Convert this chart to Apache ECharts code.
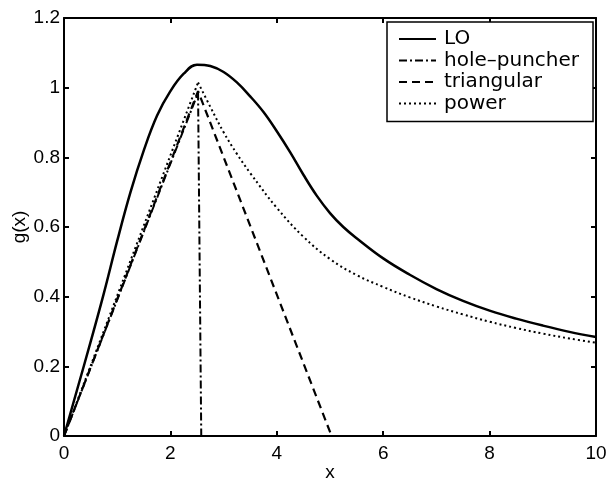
<!DOCTYPE html>
<html>
<head>
<meta charset="utf-8">
<script src="https://cdn.jsdelivr.net/npm/echarts@6/dist/echarts.min.js"></script>
<style>html,body{margin:0;padding:0;background:#fff}#c{width:608px;height:481px}</style>
</head>
<body>
<div id="c"></div>
<script>
// Values
var seriesNames = ['LO', 'hole\u2013puncher', 'triangular', 'power'];
var xTicks = [0, 2, 4, 6, 8, 10];
var yTicks = [0, 0.2, 0.4, 0.6, 0.8, 1, 1.2];

var loX = [0, 0.25, 0.5, 0.75, 1.0, 1.25, 1.5, 1.75, 2.0, 2.25, 2.5, 2.75, 3.0, 3.25, 3.5, 3.75, 4.0, 4.25, 4.5, 4.75, 5.0, 5.25, 5.5, 6.0, 6.5, 7.0, 7.5, 8.0, 8.5, 9.0, 9.5, 10];
var loY = [0, 0.135, 0.27, 0.41, 0.56, 0.70, 0.82, 0.92, 0.99, 1.04, 1.066, 1.062, 1.045, 1.015, 0.975, 0.93, 0.875, 0.815, 0.75, 0.69, 0.64, 0.60, 0.568, 0.51, 0.463, 0.422, 0.388, 0.36, 0.337, 0.317, 0.299, 0.284];

var holeX = [0, 2.52, 2.58];
var holeY = [0, 0.985, 0];

var triX = [0, 2.52, 5.03];
var triY = [0, 0.99, 0];

// power: straight rise to the peak, then a smooth decay
var powRiseX = [0, 2.52];
var powRiseY = [0, 1.015];
var powDecayX = [2.52, 2.75, 3.0, 3.25, 3.5, 4.0, 4.5, 5.0, 5.5, 6.0, 6.5, 7.0, 7.5, 8.0, 8.5, 9.0, 9.5, 10];
var powDecayY = [1.015, 0.945, 0.872, 0.81, 0.755, 0.655, 0.572, 0.508, 0.462, 0.428, 0.398, 0.372, 0.349, 0.328, 0.31, 0.294, 0.28, 0.268];

function pairs(xs, ys) { return xs.map(function (x, i) { return [x, ys[i]]; }); }

var FONT = '"Liberation Sans", Arial, Helvetica, sans-serif';
var LEGFONT = '"DejaVu Sans", "Liberation Sans", Arial, sans-serif';
var chart = echarts.init(document.getElementById('c'), null, {renderer: 'canvas'});

var axisCommon = {
  axisLine: {show: true, onZero: false, lineStyle: {color: '#000', width: 2}},
  axisTick: {show: true, inside: true, length: 5, lineStyle: {color: '#000', width: 2}},
  splitLine: {show: false}
};

function lineSeries(name, data, style, smooth) {
  return {name: name, type: 'line', data: data, smooth: smooth || false,
    showSymbol: false, symbol: 'none', symbolSize: 0,
    lineStyle: Object.assign({color: '#000'}, style), itemStyle: {color: '#000'}};
}

chart.setOption({
  animation: false,
  backgroundColor: '#fff',
  grid: {left: 64, right: 12, top: 18, bottom: 45, show: false, containLabel: false, outerBoundsMode: 'none'},
  legend: {
    data: seriesNames,
    orient: 'vertical',
    left: 387, top: 22,
    padding: [7, 14, 8, 11],
    itemGap: 1.5,
    itemWidth: 37, itemHeight: 14,
    backgroundColor: '#fff',
    borderColor: '#000', borderWidth: 1.5, borderRadius: 0,
    itemStyle: {opacity: 0},
    textStyle: {fontFamily: LEGFONT, fontSize: 20, color: '#000', padding: [0, 0, 0, 3]}
  },
  xAxis: [
    Object.assign({
      type: 'value', position: 'bottom', min: 0, max: 10, interval: 2,
      name: 'x', nameLocation: 'middle', nameGap: 27, nameMoveOverlap: false,
      nameTextStyle: {fontFamily: FONT, fontSize: 19, color: '#000'},
      axisLabel: {color: '#000', fontFamily: FONT, fontSize: 19, margin: 8,
        formatter: function (v) { return xTicks.indexOf(v) >= 0 ? String(v) : ''; }}
    }, axisCommon),
    Object.assign({
      type: 'value', position: 'top', min: 0, max: 10, interval: 2,
      axisLabel: {show: false}
    }, axisCommon)
  ],
  yAxis: [
    Object.assign({
      type: 'value', position: 'left', min: 0, max: 1.2, interval: 0.2,
      name: 'g(x)', nameLocation: 'middle', nameGap: 35, nameRotate: 90, nameMoveOverlap: false,
      nameTextStyle: {fontFamily: FONT, fontSize: 19, color: '#000'},
      axisLabel: {color: '#000', fontFamily: FONT, fontSize: 19, margin: 4,
        formatter: function (v) {
          var r = Math.round(v * 10) / 10;
          return yTicks.indexOf(r) >= 0 ? String(r) : '';
        }}
    }, axisCommon),
    Object.assign({
      type: 'value', position: 'right', min: 0, max: 1.2, interval: 0.2,
      axisLabel: {show: false}
    }, axisCommon)
  ],
  series: [
    lineSeries(seriesNames[0], pairs(loX, loY), {width: 2.5, type: 'solid'}, 0.4),
    lineSeries(seriesNames[1], pairs(holeX, holeY), {width: 2, type: [8, 3, 2, 3]}),
    lineSeries(seriesNames[2], pairs(triX, triY), {width: 2.2, type: [8, 5]}),
    lineSeries(seriesNames[3], pairs(powRiseX, powRiseY), {width: 2, type: [2, 3]}),
    lineSeries(seriesNames[3], pairs(powDecayX, powDecayY), {width: 2, type: [2, 3]}, 0.4)
  ]
});
</script>
</body>
</html>
